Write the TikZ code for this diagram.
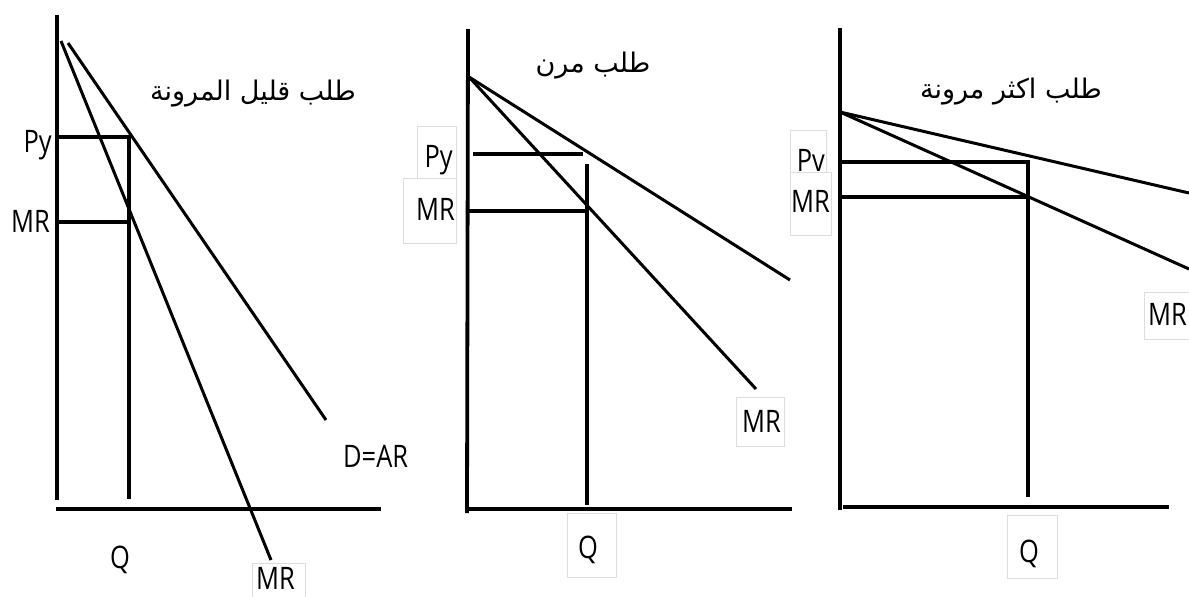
\documentclass[tikz,border=0pt]{standalone}
\usepackage{fontspec}
\TeXXeTstate=1
\setmainfont{Open Sans}[FakeStretch=0.82]
\newfontfamily\arabicfont[Script=Arabic]{DejaVu Sans}
\definecolor{boxgray}{HTML}{DDDDDD}
\begin{document}
\begin{tikzpicture}[x=1pt,y=-1pt,
  ax/.style={line width=3.8pt},
  ln/.style={line width=3pt},
  hv/.style={line width=3.4pt},
  lab/.style={inner sep=0pt,font=\fontsize{31}{31}\selectfont},
  ttl/.style={inner sep=0pt,font=\arabicfont\fontsize{27}{27}\selectfont},
  lbox/.style={draw=boxgray,line width=0.8pt}]
\useasboundingbox (0,0) rectangle (1189,597);
% ---------- panel 1 ----------
\coordinate (a1t) at (57,15);
\coordinate (a1b) at (57,500);
\coordinate (x1l) at (56,509);
\coordinate (x1r) at (381,509);
\coordinate (d1s) at (68,43);
\coordinate (d1e) at (326,420);
\coordinate (m1s) at (61,41);
\coordinate (m1e) at (271,560);
\coordinate (p1l) at (57,137);
\coordinate (p1r) at (129,137);
\coordinate (r1l) at (57,222);
\coordinate (r1r) at (129,222);
\coordinate (q1b) at (129,499);
\draw[ax] (a1t) -- (a1b);
\draw[ax] (x1l) -- (x1r);
\draw[ln] (d1s) -- (d1e);
\draw[ln] (m1s) -- (m1e);
\draw[hv] (p1l) -- (p1r) -- (q1b);
\draw[hv] (r1l) -- (r1r);
\draw[lbox] (252,563) rectangle (305,600);
\node[lab,anchor=base east] (py1) at (52,152) {Py};
\node[lab,anchor=base east] (mr1) at (50,232) {MR};
\node[lab,anchor=base west] (dar) at (343,467) {D=AR};
\node[lab,anchor=base west] (q1) at (110,568) {Q};
\node[lab,anchor=base west] (mr1b) at (256,589) {MR};
\node[ttl,anchor=base] (t1) at (253,100) {\beginR طلب قليل المرونة\endR};
% ---------- panel 2 ----------
\coordinate (a2t) at (468,29);
\coordinate (a2b) at (467,513);
\coordinate (x2l) at (467,509);
\coordinate (x2r) at (792,509);
\coordinate (ap2) at (469,77);
\coordinate (d2e) at (790,280);
\coordinate (m2e) at (756,389);
\coordinate (p2l) at (473,154);
\coordinate (p2r) at (583,154);
\coordinate (r2l) at (468,211);
\coordinate (r2r) at (587,211);
\coordinate (q2t) at (587,164);
\coordinate (q2b) at (587,505);
\draw[ax] (a2t) -- (a2b);
\draw[ax] (x2l) -- (x2r);
\draw[ln] (ap2) -- (d2e);
\draw[ln] (ap2) -- (m2e);
\draw[hv] (p2l) -- (p2r);
\draw[hv] (r2l) -- (r2r);
\draw[hv] (q2t) -- (q2b);
\draw[lbox] (417,126) rectangle (456,178);
\draw[lbox] (403,178) rectangle (456,243);
\draw[lbox] (736,397) rectangle (784,446);
\draw[lbox] (567,513) rectangle (616,577);
\node[lab,anchor=base east] (py2) at (453,167) {Py};
\node[lab,anchor=base east] (mr2) at (455,220) {MR};
\node[lab,anchor=base west] (mr2b) at (742,432) {MR};
\node[lab,anchor=base west] (q2) at (578,558) {Q};
\node[ttl,anchor=base] (t2) at (593,72) {\beginR طلب مرن\endR};
% ---------- panel 3 ----------
\coordinate (a3t) at (840,28);
\coordinate (a3b) at (840,510);
\coordinate (x3l) at (843,507);
\coordinate (x3r) at (1169,507);
\coordinate (ap3) at (840,112);
\coordinate (d3e) at (1189,193);
\coordinate (m3e) at (1189,269);
\coordinate (p3l) at (840,162);
\coordinate (p3r) at (1028,162);
\coordinate (r3l) at (840,197);
\coordinate (r3r) at (1028,197);
\coordinate (q3b) at (1028,497);
\draw[ax] (a3t) -- (a3b);
\draw[ax] (x3l) -- (x3r);
\draw[ln] (ap3) -- (d3e);
\draw[ln] (ap3) -- (m3e);
\draw[hv] (p3l) -- (p3r) -- (q3b);
\draw[hv] (r3l) -- (r3r);
\draw[lbox] (790,130) rectangle (826,172);
\draw[lbox] (790,172) rectangle (831,235);
\draw[lbox] (1144,292) rectangle (1195,339);
\draw[lbox] (1007,515) rectangle (1057,578);
\node[lab,anchor=base east] (pv3) at (825,171) {Pv};
\node[lab,anchor=base east] (mr3) at (830,212) {MR};
\node[lab,anchor=base east] (mr3b) at (1187,325) {MR};
\node[lab,anchor=base west] (q3) at (1019,562) {Q};
\node[ttl,anchor=base] (t3) at (1011,98) {\beginR طلب اكثر مرونة\endR};
\end{tikzpicture}
\end{document}
